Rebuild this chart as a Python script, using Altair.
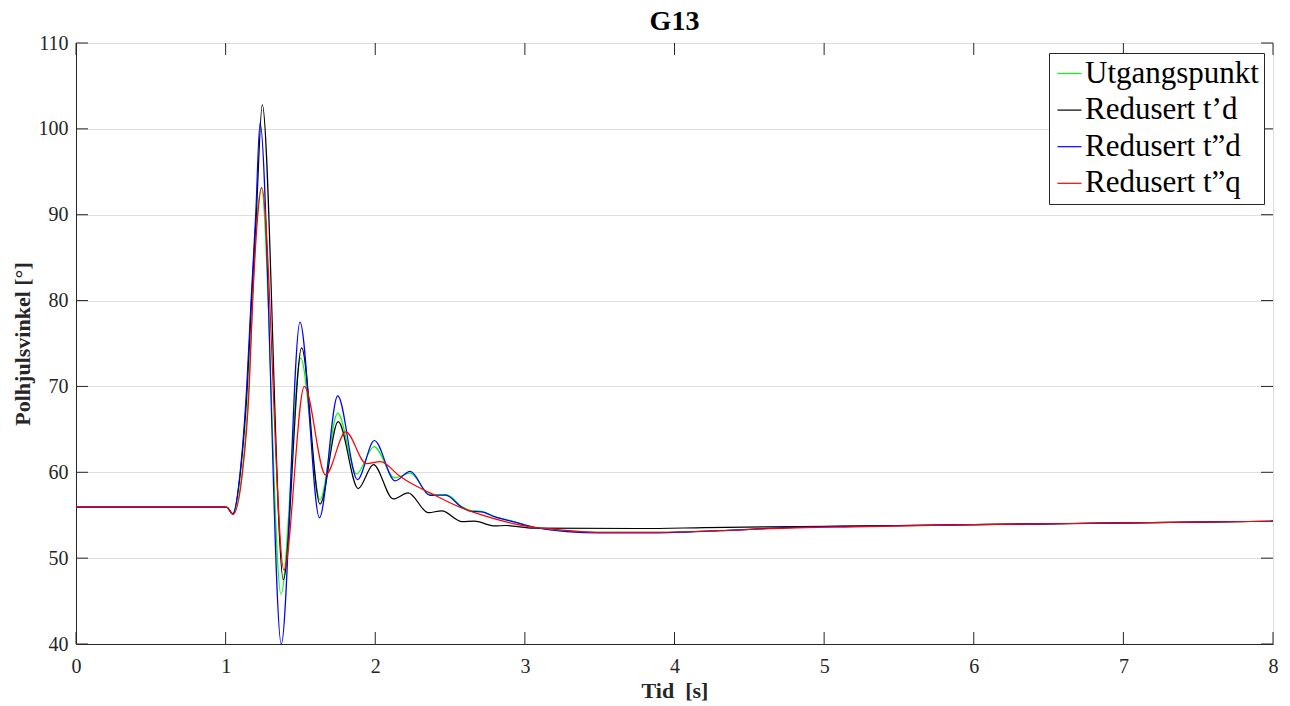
import altair as alt
import pandas as pd

# ---------------- data ----------------
NAMES = ["Utgangspunkt", "Redusert t’d", "Redusert t”d", "Redusert t”q"]
COLORS = ["#00ff00", "#000000", "#0000ff", "#ff0000"]

T_UTG = [0, 1.0, 1.012, 1.048, 1.110, 1.155, 1.180, 1.212, 1.239, 1.370, 1.502,
         1.631, 1.749, 1.875, 1.992, 2.13, 2.233, 2.366, 2.475, 2.58, 2.64, 2.71,
         2.80, 2.92, 3.06, 3.28, 3.50, 3.86, 4.30, 4.75, 5.10, 6.0, 7.0, 8.0]
V_UTG = [55.95, 55.95, 55.9, 55.15, 60, 70, 80, 90, 93.1, 45.8, 73.3,
         56.8, 66.9, 59.8, 63.0, 59.35, 59.9, 57.4, 57.4, 56.0, 55.55, 55.45,
         54.85, 54.3, 53.6, 53.15, 53.0, 53.0, 53.2, 53.55, 53.7, 53.9, 54.1, 54.3]

T_TD = [0, 1.0, 1.011, 1.047, 1.099, 1.145, 1.173, 1.205, 1.245, 1.386, 1.508,
        1.631, 1.752, 1.886, 1.988, 2.12, 2.22, 2.355, 2.444, 2.58, 2.66, 2.80,
        2.87, 3.06, 3.77, 4.2, 4.6, 5.0, 6.0, 7.0, 8.0]
V_TD = [55.95, 55.95, 55.9, 55.15, 60, 70, 80, 90, 102.8, 47.5, 74.5,
        56.3, 65.9, 58.1, 60.9, 56.9, 57.6, 55.3, 55.5, 54.25, 54.3, 53.75,
        53.8, 53.5, 53.45, 53.55, 53.65, 53.7, 53.9, 54.1, 54.3]

T_TDD = [0, 1.0, 1.011, 1.047, 1.097, 1.141, 1.170, 1.201, 1.230, 1.372, 1.497,
         1.627, 1.749, 1.881, 1.994, 2.132, 2.233, 2.366, 2.47, 2.58, 2.64, 2.71,
         2.80, 2.92, 3.06, 3.28, 3.50, 3.86, 4.30, 4.75, 5.10, 6.0, 7.0, 8.0]
V_TDD = [55.95, 55.95, 55.9, 55.15, 60, 70, 80, 90, 100.7, 40.0, 77.5,
         54.7, 68.9, 59.15, 63.7, 59.0, 60.1, 57.3, 57.35, 55.9, 55.45, 55.4,
         54.8, 54.25, 53.6, 53.1, 52.95, 52.95, 53.2, 53.55, 53.7, 53.9, 54.1, 54.3]

T_TQ = [0, 1.0, 1.012, 1.050, 1.113, 1.158, 1.181, 1.215, 1.241, 1.390, 1.526,
        1.668, 1.803, 1.94, 2.035, 2.16, 2.23, 2.366, 2.57, 2.70, 2.97, 3.2,
        3.5, 3.9, 4.3, 4.75, 5.2, 6.0, 7.0, 8.0]
V_TQ = [55.95, 55.95, 55.9, 55.1, 60, 70, 80, 90, 93.2, 48.6, 70.0,
        59.7, 64.7, 61.0, 61.25, 59.6, 58.8, 57.6, 55.9, 55.1, 53.85, 53.35,
        53.0, 53.0, 53.2, 53.5, 53.65, 53.9, 54.1, 54.3]

X_TICKS = [0, 1, 2, 3, 4, 5, 6, 7, 8]
Y_TICKS = [40, 50, 60, 70, 80, 90, 100, 110]

TITLE = "G13"
X_TITLE = "Tid \u00a0[s]"
Y_TITLE = "Polhjulsvinkel [°]"

# ---------------- build tables ----------------
rows = []
for name, ts, vs in zip(NAMES, [T_UTG, T_TD, T_TDD, T_TQ], [V_UTG, V_TD, V_TDD, V_TQ]):
    for t, v in zip(ts, vs):
        rows.append({"serie": name, "t": t, "v": v})
df = pd.DataFrame(rows)
xt = pd.DataFrame({"t": X_TICKS})
yt = pd.DataFrame({"v": Y_TICKS})

W, H = 1197, 601
FONT = "Liberation Serif, Times New Roman, Times, serif"
AX = "#262626"

xs = alt.Scale(domain=[0, 8], nice=False, zero=False)
ys = alt.Scale(domain=[40, 110], nice=False, zero=False)

x_axis = alt.Axis(values=X_TICKS, format="d", tickSize=0, labelPadding=12,
                  labelFontSize=20, labelFont=FONT, labelColor=AX, labelFlush=False,
                  domainColor=AX, grid=False, title=X_TITLE,
                  titleFont=FONT, titleFontSize=22, titleFontWeight="bold",
                  titleColor=AX, titleY=53, titleBaseline="alphabetic")
y_axis = alt.Axis(values=Y_TICKS, format="d", tickSize=0, labelPadding=8,
                  labelFontSize=20, labelFont=FONT, labelColor=AX, labelFlush=False,
                  domainColor=AX, grid=True, gridColor="#dfdfdf", title=Y_TITLE,
                  titleFont=FONT, titleFontSize=22, titleFontWeight="bold",
                  titleColor=AX, titleX=-54, titleY=H / 2, titleAngle=270,
                  titleAlign="center", titleBaseline="middle")

color = alt.Color("serie:N", scale=alt.Scale(domain=NAMES, range=COLORS),
                  legend=alt.Legend(title=None, orient="none", legendX=973, legendY=10,
                                    strokeColor=AX, fillColor="white", padding=5,
                                    symbolType="stroke", symbolSize=576,
                                    symbolStrokeWidth=1.2, labelFont=FONT,
                                    labelFontSize=31, labelColor="black",
                                    labelLimit=400, rowPadding=4.6, labelOffset=0))

layers = []
for name in NAMES:
    layers.append(
        alt.Chart(df).transform_filter(alt.datum.serie == name)
        .mark_line(strokeWidth=1.2, clip=True, interpolate="monotone")
        .encode(x=alt.X("t:Q", scale=xs, axis=x_axis),
                y=alt.Y("v:Q", scale=ys, axis=y_axis),
                color=color, order=alt.Order("t:Q"))
    )

tick_len = 12
xt_bot = alt.Chart(xt).mark_rule(color=AX, strokeWidth=1).encode(
    x=alt.X("t:Q", scale=xs, axis=x_axis), y=alt.value(H), y2=alt.value(H - tick_len))
xt_top = alt.Chart(xt).mark_rule(color=AX, strokeWidth=1).encode(
    x=alt.X("t:Q", scale=xs, axis=x_axis), y=alt.value(0), y2=alt.value(tick_len))
yt_left = alt.Chart(yt).mark_rule(color=AX, strokeWidth=1).encode(
    y=alt.Y("v:Q", scale=ys, axis=y_axis), x=alt.value(0), x2=alt.value(tick_len))
yt_right = alt.Chart(yt).mark_rule(color=AX, strokeWidth=1).encode(
    y=alt.Y("v:Q", scale=ys, axis=y_axis), x=alt.value(W), x2=alt.value(W - tick_len))

chart = alt.layer(*layers, xt_bot, xt_top, yt_left, yt_right).properties(
    width=W, height=H,
    title=alt.TitleParams(TITLE, font=FONT, fontSize=28, fontWeight="bold",
                          color="black", anchor="middle", offset=-3),
    padding={"left": 76, "top": 43, "right": 17, "bottom": 62},
    autosize=alt.AutoSizeParams(type="none"),
).configure_view(stroke=AX, strokeWidth=1).configure(
    background="white", font=FONT
).configure_axis(labelFont=FONT, titleFont=FONT).configure_legend(
    labelFont=FONT).configure_title(font=FONT)

chart.save("out.html", embed_options={"renderer": "svg", "actions": False})
